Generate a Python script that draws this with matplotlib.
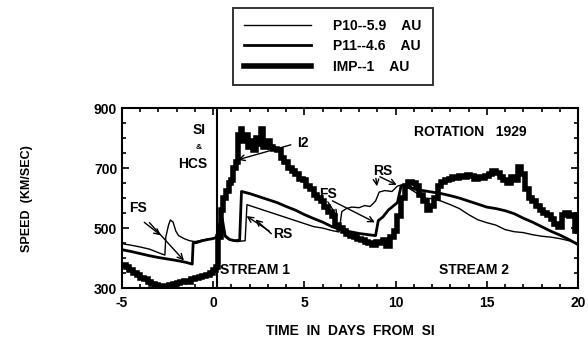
import matplotlib
matplotlib.use("Agg")
import matplotlib.pyplot as plt
from matplotlib.lines import Line2D
from matplotlib.ticker import MultipleLocator

plt.rcParams['font.family'] = ['Liberation Sans', 'DejaVu Sans']
plt.rcParams['font.weight'] = 'bold'
plt.rcParams['axes.unicode_minus'] = False

# IMP--1 AU (thick)
imp_days = [-5.0, -4.8, -4.6, -4.4, -4.2, -4.0, -3.8, -3.6, -3.4, -3.2, -3.0, -2.8, -2.6, -2.4,
            -2.2, -2.0, -1.8, -1.6, -1.4, -1.2, -1.0, -0.8, -0.6, -0.4, -0.2, 0.0, 0.15, 0.25,
            0.4, 0.55, 0.7, 0.85, 1.0, 1.1, 1.25, 1.35, 1.5, 1.6, 1.75, 1.9, 2.05, 2.2, 2.35,
            2.5, 2.6, 2.75, 2.9, 3.1, 3.3, 3.5, 3.7, 3.9, 4.1, 4.3, 4.5, 4.7, 4.9, 5.1, 5.3,
            5.5, 5.7, 5.9, 6.1, 6.3, 6.5, 6.7, 6.9, 7.1, 7.3, 7.5, 7.7, 7.9, 8.1, 8.3, 8.5,
            8.7, 8.9, 9.1, 9.3, 9.5, 9.7, 9.9, 10.1, 10.3, 10.5, 10.7, 10.9, 11.1, 11.3, 11.5,
            11.7, 11.9, 12.1, 12.3, 12.5, 12.7, 12.9, 13.1, 13.3, 13.5, 13.7, 13.9, 14.1, 14.3,
            14.5, 14.7, 14.9, 15.1, 15.3, 15.5, 15.7, 15.9, 16.1, 16.3, 16.5, 16.7, 16.9, 17.1,
            17.3, 17.5, 17.7, 17.9, 18.1, 18.3, 18.5, 18.7, 18.9, 19.1, 19.3, 19.5, 19.7, 19.85,
            20.0]
imp_speed = [378, 370, 362, 350, 345, 335, 330, 322, 315, 310, 303, 308, 305, 312,
             315, 318, 322, 325, 322, 332, 335, 338, 340, 345, 352, 360, 370, 470,
             560, 600, 625, 650, 660, 700, 720, 810, 830, 790, 810, 770, 790, 760, 800,
             780, 830, 770, 790, 770, 765, 760, 735, 720, 700, 690, 680, 665, 660, 640, 630,
             610, 600, 590, 570, 555, 540, 510, 500, 490, 480, 475, 470, 465, 460, 455, 450,
             445, 455, 450, 460, 440, 470, 490, 540, 600, 640, 655, 650, 640, 610, 590,
             560, 575, 600, 640, 655, 660, 665, 670, 668, 675, 670, 678, 675, 665,
             670, 668, 675, 680, 690, 685, 670, 660, 650, 670, 660, 705, 680, 630,
             600, 590, 575, 560, 550, 545, 530, 515, 505, 545, 550, 540, 545, 490,
             480]

# P11--4.6 AU (medium)
p11_days = [-5.0, -4.5, -4.0, -3.5, -3.0, -2.5, -2.0, -1.5, -1.15, -1.1, -0.9, -0.6, -0.3, 0.0,
            0.2, 0.35, 0.5, 0.65, 0.9, 1.2, 1.45, 1.55, 2.0, 2.5, 3.0, 3.5, 4.0, 4.5, 5.0, 5.5,
            6.0, 6.5, 7.0, 7.5, 8.0, 8.5, 8.9, 9.05, 9.3, 9.6, 9.9, 10.1, 10.3, 10.6, 11.0,
            11.5, 12.0, 12.5, 13.0, 13.5, 14.0, 14.5, 15.0, 15.5, 16.0, 16.5, 17.0, 17.5,
            18.0, 18.5, 19.0, 19.5, 20.0]
p11_speed = [428, 422, 415, 408, 402, 397, 392, 386, 380, 450, 452, 458, 462, 465,
             470, 515, 530, 475, 462, 458, 460, 622, 615, 605, 595, 585, 572, 560, 545, 532,
             520, 505, 495, 488, 482, 478, 475, 525, 537, 560, 575, 585, 640, 645, 630,
             625, 620, 615, 608, 600, 590, 580, 570, 565, 558, 548, 533, 520,
             505, 490, 477, 462, 445]

# P10--5.9 AU (thin)
p10_days = [-5.0, -4.5, -4.0, -3.5, -3.0, -2.65, -2.6, -2.45, -2.35, -2.2, -2.05, -1.9, -1.6,
            -1.3, -1.0, -0.6, -0.3, 0.0, 0.2, 0.35, 0.5, 0.65, 0.9, 1.3, 1.75, 1.85, 2.5, 3.0,
            3.5, 4.0, 4.5, 5.0, 5.5, 6.0, 6.5, 6.9, 7.05, 7.3, 7.6, 8.0, 8.3, 8.6, 8.9, 9.1,
            9.4, 9.8, 10.1, 10.4, 10.8, 11.2, 11.6, 12.0, 12.5, 13.0, 13.5, 14.0, 14.5, 15.0,
            15.5, 16.0, 16.5, 17.0, 17.5, 18.0, 18.5, 19.0, 19.5, 20.0]
p10_speed = [448, 443, 437, 430, 418, 410, 470, 510, 527, 520, 490, 475, 465,
             458, 455, 460, 463, 466, 468, 500, 520, 470, 460, 455, 458, 578, 565, 555,
             545, 535, 525, 515, 505, 500, 492, 487, 555, 565, 570, 568, 575, 572, 590, 620,
             625, 622, 640, 645, 630, 615, 600, 598, 590, 578, 565, 545, 528, 518,
             510, 495, 488, 485, 478, 473, 470, 465, 458, 448]

y_ticks = [300, 500, 700, 900]

fig = plt.figure(figsize=(5.88, 3.43), dpi=100)
ax = fig.add_axes([0.2075, 0.160, 0.7755, 0.525])

ax.plot(p10_days, p10_speed, color='black', lw=1.0)
ax.plot(p11_days, p11_speed, color='black', lw=2.0)
ax.plot(imp_days, imp_speed, color='black', lw=4.0, drawstyle='steps-post',
        solid_joinstyle='miter', solid_capstyle='butt')
ax.axvline(0.2, color='black', lw=1.5)

ax.set_xlim(-5, 20)
ax.set_ylim(300, 900)
ax.xaxis.set_major_locator(MultipleLocator(5))
ax.xaxis.set_minor_locator(MultipleLocator(1))
ax.set_yticks(y_ticks)
ax.yaxis.set_minor_locator(MultipleLocator(50))
ax.tick_params(which='both', direction='in', top=True, right=True, labelsize=10, width=1.2)
ax.tick_params(which='major', length=5)
ax.tick_params(which='minor', length=3)
ax.tick_params(axis='x', pad=6)
for s in ax.spines.values():
    s.set_linewidth(1.5)

ax.set_xlabel('TIME  IN  DAYS  FROM  SI', fontsize=10, fontweight='bold', labelpad=10)
ax.set_ylabel('SPEED  (KM/SEC)', fontsize=9, fontweight='bold', labelpad=44)

txt = dict(fontsize=10, fontweight='bold', ha='center', va='center')
ax.text(-0.8, 827, 'SI', **txt)
ax.text(-0.8, 767, '&', fontsize=6, fontweight='bold', ha='center', va='center')
ax.text(-1.1, 713, 'HCS', **txt)
ax.text(14.1, 820, 'ROTATION   1929', **txt)
ax.text(4.9, 785, 'I2', **txt)
ax.text(-4.1, 567, 'FS', **txt)
ax.text(3.8, 480, 'RS', **txt)
ax.text(6.3, 615, 'FS', **txt)
ax.text(9.3, 690, 'RS', **txt)
ax.text(2.3, 362, 'STREAM 1', **txt)
ax.text(14.3, 362, 'STREAM 2', **txt)

arrow = dict(arrowstyle='->', color='black', lw=1.0)
ax.annotate('', xy=(1.2, 725), xytext=(4.4, 780), arrowprops=arrow)
ax.annotate('', xy=(-2.75, 470), xytext=(-3.9, 525), arrowprops=arrow)
ax.annotate('', xy=(-1.5, 385), xytext=(-3.6, 525), arrowprops=arrow)
ax.annotate('', xy=(1.7, 545), xytext=(3.2, 485), arrowprops=arrow)
ax.annotate('', xy=(2.2, 535), xytext=(3.3, 475), arrowprops=arrow)
ax.annotate('', xy=(6.9, 530), xytext=(6.2, 595), arrowprops=arrow)
ax.annotate('', xy=(9.0, 515), xytext=(6.4, 595), arrowprops=arrow)
ax.annotate('', xy=(9.0, 630), xytext=(8.9, 675), arrowprops=arrow)
ax.annotate('', xy=(10.2, 640), xytext=(9.0, 675), arrowprops=arrow)

handles = [Line2D([], [], color='black', lw=1.0),
           Line2D([], [], color='black', lw=2.0),
           Line2D([], [], color='black', lw=4.0)]
labels = ['P10--5.9    AU', 'P11--4.6    AU', 'IMP--1    AU']
leg = fig.legend(handles, labels, loc='center', bbox_to_anchor=(0.566, 0.865),
                 frameon=True, fancybox=False, edgecolor='black', handlelength=4.8,
                 fontsize=10, borderpad=0.8, labelspacing=0.45, handletextpad=1.6,
                 borderaxespad=0)
leg.get_frame().set_linewidth(1.4)
for t in leg.get_texts():
    t.set_fontweight('bold')

fig.savefig('out.png', dpi=100)
